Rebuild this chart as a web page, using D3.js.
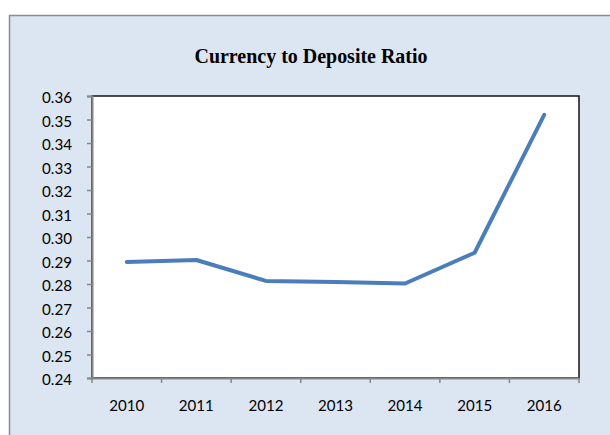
<!DOCTYPE html>
<html><head><meta charset="utf-8">
<script src="https://cdn.jsdelivr.net/npm/d3@7"></script>
<style>html,body{margin:0;padding:0;background:#fff;}svg{display:block;}</style>
</head><body>
<script>
const years = ["2010","2011","2012","2013","2014","2015","2016"];
const ratio = [0.2894, 0.2902, 0.2813, 0.2808, 0.2802, 0.2933, 0.3520];
const yTicks = [0.24,0.25,0.26,0.27,0.28,0.29,0.30,0.31,0.32,0.33,0.34,0.35,0.36];
const title = "Currency to Deposite Ratio";

const W = 610, H = 435;
const svg = d3.select("body").append("svg").attr("width", W).attr("height", H);

// outer chart area
svg.append("rect").attr("x", 9.5).attr("y", 15.5).attr("width", 620).attr("height", 440)
  .attr("fill", "#dce6f2").attr("stroke", "#8c8c8c").attr("stroke-width", 1.5);

const L = 92, R = 579, T = 96, B = 378;
const x = d3.scaleBand().domain(years).range([L, R]).paddingInner(0).paddingOuter(0);
const y = d3.scaleLinear().domain([0.24, 0.36]).range([B, T]);

// plot area
svg.append("rect").attr("x", L).attr("y", T).attr("width", R - L).attr("height", B - T)
  .attr("fill", "#fff").attr("stroke", "#111").attr("stroke-width", 1.5);

// title
svg.append("text").attr("x", 311).attr("y", 63).attr("text-anchor", "middle")
  .attr("font-family", "'Liberation Serif','Times New Roman',serif").attr("font-weight", "bold")
  .attr("font-size", 22).attr("textLength", 233).attr("lengthAdjust", "spacingAndGlyphs")
  .attr("fill", "#000").text(title);

// y axis
const yAxis = d3.axisLeft(y).tickValues(yTicks).tickFormat(d3.format(".2f")).tickSize(5).tickPadding(15);
const gy = svg.append("g").attr("transform", `translate(${L},0)`).call(yAxis);
gy.select(".domain").attr("stroke", "#868686").attr("stroke-width", 2);
gy.selectAll(".tick line").attr("stroke", "#868686").attr("stroke-width", 1.5);
gy.selectAll(".tick text").attr("font-family", "Lato,'Liberation Sans',sans-serif")
  .attr("font-size", 16).attr("dy", "0.42em").attr("fill", "#000")
  .attr("textLength", 30).attr("lengthAdjust", "spacingAndGlyphs");

// x axis
const xAxis = d3.axisBottom(x).tickSize(0).tickPadding(22);
const gx = svg.append("g").attr("transform", `translate(0,${B})`).call(xAxis);
gx.select(".domain").attr("stroke", "#868686").attr("stroke-width", 2);
gx.selectAll(".tick text").attr("font-family", "Lato,'Liberation Sans',sans-serif")
  .attr("font-size", 16).attr("fill", "#000")
  .attr("textLength", 35).attr("lengthAdjust", "spacingAndGlyphs");
// boundary tick marks between categories
const bounds = years.map(d => x(d)).concat([x(years[years.length - 1]) + x.bandwidth()]);
gx.selectAll(".btick").data(bounds).enter().append("line").attr("class", "btick")
  .attr("x1", d => d).attr("x2", d => d).attr("y1", 0).attr("y2", 5)
  .attr("stroke", "#868686").attr("stroke-width", 1.5);

// line
const line = d3.line().x((d, i) => x(years[i]) + x.bandwidth() / 2).y(d => y(d));
svg.append("path").datum(ratio).attr("d", line).attr("fill", "none")
  .attr("stroke", "#4a7ebb").attr("stroke-width", 4).attr("stroke-linecap", "round").attr("stroke-linejoin", "round");
</script>
</body></html>
